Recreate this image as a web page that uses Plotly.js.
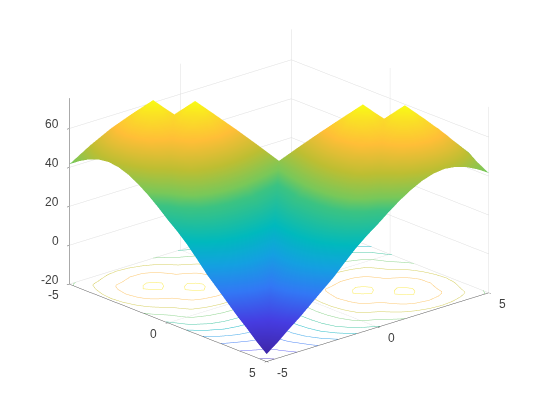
<!DOCTYPE html>
<html><head><meta charset="utf-8">
<script src="https://cdn.plot.ly/plotly-3.0.1.min.js"></script>
<style>html,body{margin:0;padding:0;background:#fff}#c{width:540px;height:405px}</style>
</head><body><div id="c"></div>
<script>
const xValues=[-5,-4.5,-4,-3.5,-3,-2.5,-2,-1.5,-1,-0.5,0,0.5,1,1.5,2,2.5,3,3.5,4,4.5,5];
const yValues=[-5,-4.5,-4,-3.5,-3,-2.5,-2,-1.5,-1,-0.5,0,0.5,1,1.5,2,2.5,3,3.5,4,4.5,5];
const zRows=[
[41.6,45.2,48.1,50,50.7,50,48.1,45.2,41.6,37.4,32.8,28.6,23.8,18.2,12.4,7.5,2.5,-2.5,-7,-11.9,-16.2],
[44.3,51.6,55.1,57.4,58.3,57.4,55.1,51.6,47.5,42.8,39.7,35.8,29.8,23.4,17.2,11,5.2,0.5,-4.2,-8.5,-11.9],
[48.1,53.7,60.6,63.6,64.9,63.6,60.6,56.4,51.7,48.8,45.2,39.7,34,27.2,20.6,14,7.7,2,-2.4,-4.2,-7],
[50,56.1,61.7,68.3,70.5,68.3,64,59.2,56.9,53.4,48,42,36,29.2,21.9,15.4,9.3,2.6,2,0.5,-2.5],
[50.7,58.3,63.7,69,75.5,70.5,65.3,64,61,55.7,49.6,43.3,36.7,29.8,22.7,15.4,8.6,9.3,7.7,5.2,2.5],
[50,57.4,63.6,68.3,69.8,68.3,70.5,68.3,63.1,57,50.5,43.7,36.8,29.8,22,14.7,15.4,15.4,14,11,7.5],
[48.1,55.1,60.6,64,64.3,69.8,75.5,70.5,64.4,57.4,50.4,43.3,37.2,29,20.9,22,22.7,21.9,20.6,17.2,12.4],
[45.2,51.6,56.4,59.2,64,68.3,69.2,68.3,62.9,56.5,49.5,42.2,35,27.6,29,29.8,29.8,29.2,27.2,23.4,18.2],
[41.6,47.5,51.7,56.9,61,63.1,63.4,61.8,61,55,48.1,40.9,33.2,35,37.2,36.8,36.7,36,34,29.8,23.8],
[37.4,42.8,48.8,53.4,55.7,57,57.4,56.5,54.6,53.4,46.7,39.3,40.9,42.2,43.3,43.7,43.3,42,39.7,35.8,28.6],
[32.8,39.7,45.2,48,49.6,50.5,50.4,49.5,48.1,45.8,45.6,46.7,48.1,49.5,50.4,50.5,49.6,48,45.2,39.7,32.8],
[28.6,35.8,39.7,42,43.3,43.7,43.3,42.2,40.9,39.3,45.8,53.4,55,56.5,57.4,57,55.7,53.4,48.8,42.8,37.4],
[23.8,29.8,34,36,36.7,36.8,37.2,35,33.2,40.9,48.1,54.6,61,62.9,64.4,63.1,61,56.9,51.7,47.5,41.6],
[18.2,23.4,27.2,29.2,29.8,29.8,29,27.6,35,42.2,49.5,56.5,61.8,68.3,70.5,68.3,64,59.2,56.4,51.6,45.2],
[12.4,17.2,20.6,21.9,22.7,22,20.9,29,37.2,43.3,50.4,57.4,63.4,69.2,75.5,70.5,65.3,64,60.6,55.1,48.1],
[7.5,11,14,15.4,15.4,14.7,22,29.8,36.8,43.7,50.5,57,63.1,68.3,69.8,68.3,70.5,68.3,63.6,57.4,50],
[2.5,5.2,7.7,9.3,8.6,15.4,22.7,29.8,36.7,43.3,49.6,55.7,61,64,64.3,69.8,75.5,70.5,64.9,58.3,50.7],
[-2.5,0.5,2,2.6,9.3,15.4,21.9,29.2,36,42,48,53.4,56.9,59.2,64,68.3,69,68.3,63.6,57.4,50],
[-7,-4.2,-2.4,2,7.7,14,20.6,27.2,34,39.7,45.2,48.8,51.7,56.4,60.6,63.6,63.7,61.7,60.6,55.1,48.1],
[-11.9,-8.5,-4.2,0.5,5.2,11,17.2,23.4,29.8,35.8,39.7,42.8,47.5,51.6,55.1,57.4,58.3,56.1,53.7,51.6,45.2],
[-16.2,-11.9,-7,-2.5,2.5,7.5,12.4,18.2,23.8,28.6,32.8,37.4,41.6,45.2,48.1,50,50.7,50,48.1,44.3,41.6]
];
const contourLevels=[71,62,52.6,43.2,33.8,24.4,15,5.6,-3.8,-13.2];
const contourColors=['#fbec5a','#fdc86e','#d6cf60','#90d690','#4fc9a8','#25bcc8','#3fa8ea','#4a84f5','#6a6cf5','#5a48cc'];
const contourFloor=-19.9;
const xTicks=[-5,0,5], yTicks=[-5,0,5], zTicks=[-20,0,20,40,60];
const parula=[[0,'rgb(62,38,168)'],[0.12,'rgb(70,60,225)'],[0.24,'rgb(50,120,245)'],[0.35,'rgb(20,160,225)'],[0.45,'rgb(0,185,190)'],[0.594,'rgb(60,195,130)'],[0.645,'rgb(120,200,90)'],[0.74,'rgb(190,190,50)'],[0.85,'rgb(255,190,55)'],[0.93,'rgb(250,220,40)'],[1,'rgb(249,251,21)']];

function contourLines(level){
  const segs=[];
  for(let i=0;i<yValues.length-1;i++)for(let j=0;j<xValues.length-1;j++){
    const c=[zRows[i][j],zRows[i][j+1],zRows[i+1][j+1],zRows[i+1][j]];
    const px=[xValues[j],xValues[j+1],xValues[j+1],xValues[j]];
    const py=[yValues[i],yValues[i],yValues[i+1],yValues[i+1]];
    const mz=(c[0]+c[1]+c[2]+c[3])/4,mx=(px[0]+px[1])/2,my=(py[0]+py[2])/2;
    for(let k=0;k<4;k++){
      const n=(k+1)%4;
      const tz=[c[k],c[n],mz],tx=[px[k],px[n],mx],ty=[py[k],py[n],my];
      const pts=[];
      for(let e=0;e<3;e++){
        const f=(e+1)%3;
        if((tz[e]<level)!==(tz[f]<level)){
          const t=(level-tz[e])/(tz[f]-tz[e]);
          pts.push([tx[e]+t*(tx[f]-tx[e]),ty[e]+t*(ty[f]-ty[e])]);
        }
      }
      if(pts.length===2)segs.push(pts);
    }
  }
  const key=p=>p[0].toFixed(4)+','+p[1].toFixed(4);
  const lines=[];
  const used=new Array(segs.length).fill(false);
  const grow=(line)=>{
    let found=true;
    while(found){
      found=false;
      const tail=key(line[line.length-1]);
      for(let s=0;s<segs.length;s++){
        if(used[s])continue;
        if(key(segs[s][0])===tail){line.push(segs[s][1]);used[s]=true;found=true;break;}
        if(key(segs[s][1])===tail){line.push(segs[s][0]);used[s]=true;found=true;break;}
      }
    }
  };
  for(let s=0;s<segs.length;s++){
    if(used[s])continue;
    used[s]=true;
    const line=[segs[s][0],segs[s][1]];
    grow(line);line.reverse();grow(line);
    lines.push(line);
  }
  return lines;
}
// triangles for the surface: ridge cells split along the ridge, others along their lower diagonal
const vx=[],vy=[],vz=[],ti=[],tj=[],tk=[];
const n=xValues.length;
yValues.forEach((yv,r)=>xValues.forEach((xv,c)=>{vx.push(xv);vy.push(yv);vz.push(zRows[r][c]);}));
for(let r=0;r<n-1;r++)for(let c=0;c<n-1;c++){
  const a=r*n+c,b=a+1,d=a+n,e=d+1;
  if(r===c||vz[a]+vz[e]<=vz[b]+vz[d]){ti.push(a,a);tj.push(b,e);tk.push(e,d);}
  else{ti.push(a,b);tj.push(b,e);tk.push(d,d);}
}
const traces=[{type:'mesh3d',x:vx,y:vy,z:vz,i:ti,j:tj,k:tk,intensity:vz,intensitymode:'vertex',colorscale:parula,cmin:-16.2,cmax:75.5,showscale:false,
  lighting:{ambient:1,diffuse:0,specular:0,fresnel:0,roughness:1},flatshading:false,hoverinfo:'skip'}];
contourLevels.forEach((lv,i)=>{
  contourLines(lv).forEach(line=>{
    traces.push({type:'scatter3d',mode:'lines',x:line.map(p=>p[0]),y:line.map(p=>p[1]),z:line.map(()=>contourFloor),
      line:{color:contourColors[i],width:1},showlegend:false,hoverinfo:'skip'});
  });
});
const ax=(vals)=>({tickmode:'array',tickvals:vals,title:{text:''},showbackground:false,showticklabels:false,
  showgrid:true,gridcolor:'#dedede',gridwidth:1,zeroline:false,showline:true,linecolor:'#555',linewidth:1,
  ticks:'outside',ticklen:3,tickcolor:'#555',showspikes:false});
const tickFont={family:'Liberation Sans',size:12,color:'#404040'};
const tickNote=(x,y,z,t,dx,dy,anchor)=>({x,y,z,text:String(t),showarrow:false,xshift:dx,yshift:dy,font:tickFont,xanchor:anchor,yanchor:'middle'});
const annotations=[
  ...xTicks.map(t=>tickNote(t,-5,-20,t,-8.5,-11,'right')),
  ...yTicks.map(t=>tickNote(5,t,-20,t,8.5,-11,'left')),
  ...zTicks.map(t=>tickNote(-5,-5,t,t,-8,4.5,'right'))
];
const layout={width:540,height:405,margin:{l:0,r:0,t:0,b:0},paper_bgcolor:'#fff',showlegend:false,
  scene:{domain:{x:[0.0333,1],y:[0.0346,1]},
    xaxis:Object.assign(ax(xTicks),{range:[-5,5]}),
    yaxis:Object.assign(ax(yTicks),{range:[-5,5]}),
    zaxis:Object.assign(ax(zTicks),{range:[-20,75.6]}),
    aspectmode:'manual',aspectratio:{x:1.52,y:1.52,z:1.015},annotations,
    camera:{projection:{type:'orthographic'},up:{x:0,y:0,z:1},center:{x:0,y:0,z:0},eye:{x:1.4,y:-1.244,z:0.696}}}};
Plotly.newPlot('c',traces,layout,{displayModeBar:false});
</script></body></html>
